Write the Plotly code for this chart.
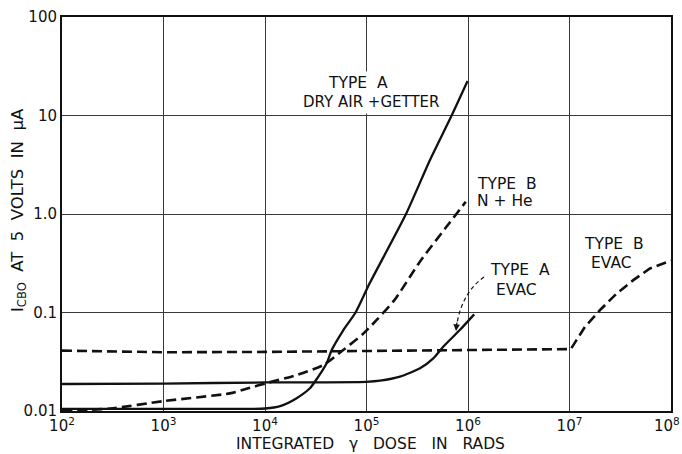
import plotly.graph_objects as go

# Integrated gamma dose (rads) and collector cut-off current I_CBO (uA) at 5 V
dose_a_dry = [1e2, 3e3, 1e4, 1.41e4, 2.05e4, 2.77e4, 3.1e4, 4.05e4, 4.54e4, 5.9e4,
              7.8e4, 1.08e5, 2.45e5, 4.2e5, 6.9e5, 9.9e5]
icbo_a_dry = [0.0105, 0.0105, 0.0106, 0.0112, 0.0135, 0.017, 0.0198, 0.0305, 0.0416,
              0.066, 0.1, 0.2, 1.0, 3.5, 10.0, 22.4]

dose_b_nhe = [1e2, 3e2, 1e3, 4.5e3, 7.1e3, 1e4, 2.05e4, 3.76e4, 5.9e4, 9.3e4, 1.26e5,
              1.9e5, 3.37e5, 6e5, 9.5e5]
icbo_b_nhe = [0.0100, 0.0106, 0.0126, 0.0151, 0.0172, 0.019, 0.0232, 0.0293, 0.0416,
              0.061, 0.084, 0.135, 0.33, 0.72, 1.33]

dose_a_evac = [1e2, 1e3, 1e4, 1e5, 1.36e5, 2.14e5, 3.37e5, 4.55e5, 5.7e5, 8.3e5, 1.15e6]
icbo_a_evac = [0.0188, 0.019, 0.0195, 0.0198, 0.0203, 0.0223, 0.0271, 0.0342, 0.0449,
               0.0663, 0.0957]

dose_b_evac = [1e2, 1e3, 1e4, 1e5, 1e6, 1.03e7, 1.42e7, 2e7, 2.92e7, 4.25e7, 6.2e7,
               9.8e7, 1e8]
icbo_b_evac = [0.041, 0.0395, 0.0398, 0.0405, 0.0415, 0.0425, 0.0716, 0.106, 0.156,
               0.213, 0.28, 0.334, 0.336]

x_tick_vals = [1e2, 1e3, 1e4, 1e5, 1e6, 1e7, 1e8]
x_tick_text = ["10<sup>2</sup>", "10<sup>3</sup>", "10<sup>4</sup>", "10<sup>5</sup>",
               "10<sup>6</sup>", "10<sup>7</sup>", "10<sup>8</sup>"]
y_tick_vals = [0.01, 0.1, 1, 10, 100]
y_tick_text = ["0.01", "0.1", "1.0", "10", "100"]

FONT = "DejaVu Sans"
INK = "#111111"
W, H = 682, 454
ML, MR, MT, MB = 62, 11, 17, 43
PW, PH = W - ML - MR, H - MT - MB
SP2 = "\u00a0\u00a0"
SP3 = "\u00a0\u00a0\u00a0"


def paper(px, py):
    """Pixel position on the page -> paper coordinates of the plot area."""
    return (px - ML) / PW, (H - MB - py) / PH


fig = go.Figure()

solid = dict(color=INK, width=2.3, shape="spline", smoothing=0.6)
dashed_smooth = dict(color=INK, width=2.6, dash="10px,5px", shape="spline", smoothing=0.6)
dashed_kink = dict(color=INK, width=2.6, dash="10px,5px")

fig.add_trace(go.Scatter(x=dose_a_dry, y=icbo_a_dry, mode="lines", line=solid))
fig.add_trace(go.Scatter(x=dose_a_evac, y=icbo_a_evac, mode="lines", line=solid))
fig.add_trace(go.Scatter(x=dose_b_nhe, y=icbo_b_nhe, mode="lines", line=dashed_smooth))
fig.add_trace(go.Scatter(x=dose_b_evac, y=icbo_b_evac, mode="lines", line=dashed_kink))

# curve labels: text, x, y (page pixels), anchor, size, white box
labels = [
    ("TYPE" + SP2 + "A", 358, 83, "center", 15.5, True),
    ("DRY AIR +GETTER", 371, 102.5, "center", 15, True),
    ("TYPE" + SP2 + "B", 474, 184, "left", 15.5, False),
    ("N\u00a0+\u00a0He", 474, 201, "left", 15.5, False),
    ("TYPE" + SP2 + "A", 519.5, 270, "center", 15.5, False),
    ("EVAC", 516.5, 290, "center", 15.5, False),
    ("TYPE" + SP2 + "B", 614, 244, "center", 15.5, False),
    ("EVAC", 611, 263, "center", 15.5, False),
]
for text, px, py, anchor, size, boxed in labels:
    xp, yp = paper(px, py)
    fig.add_annotation(
        text=text, x=xp, y=yp, xref="paper", yref="paper",
        xanchor=anchor, yanchor="middle", showarrow=False,
        font=dict(family=FONT, size=size, color=INK),
        bgcolor="white" if boxed else None, borderpad=2,
    )

# curved dashed pointer from the "TYPE A EVAC" label
p0, c1, c2, p1 = paper(484, 277), paper(470, 287), paper(461, 302), paper(457, 323)
fig.add_shape(
    type="path", xref="paper", yref="paper",
    path=(f"M {p0[0]},{p0[1]} C {c1[0]},{c1[1]} {c2[0]},{c2[1]} {p1[0]},{p1[1]}"),
    line=dict(color=INK, width=1.2, dash="4px,3px"),
)
hx, hy = paper(456, 331)
fig.add_annotation(
    x=hx, y=hy, xref="paper", yref="paper", text="", showarrow=True,
    ax=1, ay=-10, arrowhead=2, arrowsize=1.1, arrowwidth=1.2, arrowcolor=INK,
)

# the last decade label sits against the right page edge, so it is right-aligned
last_x, last_y = paper(W, 425)
fig.add_annotation(
    text=x_tick_text[-1], x=last_x, y=last_y, xref="paper", yref="paper",
    xanchor="right", yanchor="middle", showarrow=False,
    font=dict(family=FONT, size=15, color=INK),
)

# axis titles
tx, ty = paper(370, 444)
fig.add_annotation(
    text=SP3.join(["INTEGRATED", "\u03b3", "DOSE", "IN", "RADS"]),
    x=tx, y=ty, xref="paper", yref="paper", showarrow=False,
    xanchor="center", yanchor="middle",
    font=dict(family=FONT, size=15.5, color=INK),
)
yx, yy = paper(18, 210)
fig.add_annotation(
    text="I<sub>CBO</sub>" + SP2 + SP2.join(["AT", "5", "VOLTS", "IN", "\u03bcA"]),
    x=yx, y=yy, xref="paper", yref="paper", showarrow=False, textangle=-90,
    xanchor="center", yanchor="middle",
    font=dict(family=FONT, size=16.5, color=INK),
)

axis_common = dict(
    type="log", showgrid=True, gridcolor="#3a3a3a", gridwidth=1,
    showline=True, linecolor=INK, linewidth=2, mirror=True,
    ticks="", zeroline=False, automargin=False,
    tickfont=dict(family=FONT, size=15, color=INK),
)
fig.update_xaxes(range=[2, 8], tickvals=x_tick_vals,
                 ticktext=x_tick_text[:-1] + [""], **axis_common)
fig.update_yaxes(range=[-2, 2], tickvals=y_tick_vals, ticktext=y_tick_text,
                 **axis_common)

fig.update_layout(
    width=W, height=H, autosize=False,
    margin=dict(l=ML, r=MR, t=MT, b=MB, pad=0, autoexpand=False),
    plot_bgcolor="white", paper_bgcolor="white",
    showlegend=False,
)

fig.write_html("out.html", config={"displayModeBar": False})
